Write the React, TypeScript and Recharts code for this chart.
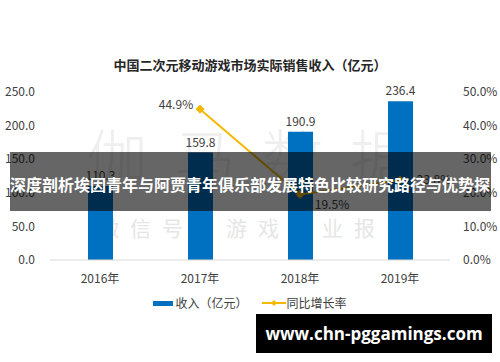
import React from 'react';
import { ComposedChart, Bar, Line, XAxis, YAxis, LabelList } from 'recharts';

const years = ['2016年', '2017年', '2018年', '2019年'];
const revenue = [110.3, 159.8, 190.9, 236.4];
const growth = [null, 44.9, 19.5, 23.8];
const leftTicks = [0, 50, 100, 150, 200, 250];
const rightTicks = [0, 10, 20, 30, 40, 50];

const data = years.map((year, i) => ({ year, revenue: revenue[i], growth: growth[i] }));

const FONT = "'Noto Sans CJK SC', 'Noto Sans', sans-serif";
const BLUE = '#0070C0';
const GOLD = '#F5B800';
const TEXT = '#404040';

// where each growth label sits relative to its point
const growthLabelShift: Record<number, [number, number]> = {
  1: [-24, -6],
  2: [32, 9],
  3: [34, -2],
};

const Diamond = (props: any) => {
  const { cx, cy, value } = props;
  if (value == null || cx == null) return null;
  const r = 4;
  return (
    <polygon
      points={`${cx},${cy - r} ${cx + r},${cy} ${cx},${cy + r} ${cx - r},${cy}`}
      fill={GOLD}
      stroke={GOLD}
    />
  );
};

const GrowthLabel = (props: any) => {
  const { x, y, value, index } = props;
  if (value == null) return null;
  const [dx, dy] = growthLabelShift[index] || [0, -12];
  return (
    <text x={x + dx} y={y + dy} textAnchor="middle" dominantBaseline="central" fontSize={12} fill={TEXT} fontFamily={FONT}>
      {value.toFixed(1)}%
    </text>
  );
};

// legend drawn outside the chart so it does not shrink the plot
const ChartLegend = () => (
  <div style={{ position: 'absolute', left: 0, top: 294, width: 500, display: 'flex', justifyContent: 'center', alignItems: 'center', fontSize: 12, color: TEXT, fontFamily: FONT }}>
    <svg width={20} height={10} style={{ marginRight: 2 }}>
      <rect x={0} y={3} width={20} height={5} fill={BLUE} />
    </svg>
    <span style={{ marginRight: 14 }}>收入（亿元）</span>
    <svg width={24} height={10} style={{ marginRight: 1 }}>
      <line x1={0} y1={5} x2={24} y2={5} stroke={GOLD} strokeWidth={2} />
      <polygon points="12,2 15,5 12,8 9,5" fill={GOLD} />
    </svg>
    <span>同比增长率</span>
  </div>
);

export default function App() {
  return (
    <div style={{ position: 'fixed', left: 0, top: 0, width: 500, height: 362, background: '#fff', overflow: 'hidden', fontFamily: FONT }}>
      {/* faint source watermark */}
      <div style={{ position: 'absolute', left: 86, top: 110, fontSize: 62, fontWeight: 300, color: '#efefef', letterSpacing: 26, whiteSpace: 'nowrap' }}>
        伽马数据
      </div>
      <div style={{ position: 'absolute', left: 98, top: 212, fontSize: 21, color: '#e6e6e6', letterSpacing: 11, whiteSpace: 'nowrap' }}>
        微信号：游戏产业报告
      </div>

      <div style={{ position: 'absolute', left: 0, top: 57, width: 500, textAlign: 'center', fontSize: 13, fontWeight: 700, color: '#262626', lineHeight: '16px' }}>
        中国二次元移动游戏市场实际销售收入（亿元）
      </div>

      <div style={{ position: 'absolute', left: 0, top: 0 }}>
        <ComposedChart width={500} height={362} data={data} margin={{ top: 92, right: 0, bottom: 72, left: 0 }}>
          <XAxis
            dataKey="year"
            height={30}
            axisLine={{ stroke: '#D9D9D9' }}
            tickLine={false}
            tick={{ fontSize: 12, fill: TEXT, fontFamily: FONT }}
            tickMargin={8}
          />
          <YAxis
            yAxisId="left"
            width={50}
            domain={[0, 250]}
            ticks={leftTicks}
            tickFormatter={(v: number) => v.toFixed(1)}
            axisLine={false}
            tickLine={false}
            tickMargin={9}
            tick={{ fontSize: 12, fill: TEXT, fontFamily: FONT }}
          />
          <YAxis
            yAxisId="right"
            orientation="right"
            width={50}
            domain={[0, 50]}
            ticks={rightTicks}
            tickFormatter={(v: number) => `${v.toFixed(1)}%`}
            axisLine={false}
            tickLine={false}
            tickMargin={7}
            tick={{ fontSize: 12, fill: TEXT, fontFamily: FONT }}
          />
          <Bar yAxisId="left" dataKey="revenue" name="收入（亿元）" fill={BLUE} barSize={25} isAnimationActive={false}>
            <LabelList dataKey="revenue" position="top" offset={6} fontSize={12} fill={TEXT} fontFamily={FONT} formatter={(v: any) => Number(v).toFixed(1)} />
          </Bar>
          <Line
            yAxisId="right"
            dataKey="growth"
            name="同比增长率"
            stroke={GOLD}
            strokeWidth={2}
            dot={<Diamond />}
            activeDot={false}
            isAnimationActive={false}
          >
            <LabelList dataKey="growth" content={<GrowthLabel />} />
          </Line>
        </ComposedChart>
      </div>

      <ChartLegend />

      {/* overlay banner */}
      <div style={{ position: 'absolute', left: 10, top: 152, width: 481, height: 59, background: 'rgba(0,0,0,0.6)', overflow: 'hidden' }}>
        <div style={{ position: 'absolute', left: 0, top: 22, fontSize: 16, fontWeight: 700, color: '#fff', whiteSpace: 'nowrap', lineHeight: '20px' }}>
          深度剖析埃因青年与阿贾青年俱乐部发展特色比较研究路径与优势探
        </div>
      </div>

      <div style={{ position: 'absolute', left: 256, top: 314, width: 236, height: 39, background: '#000', color: '#fff', fontSize: 17, fontWeight: 700, fontFamily: "'Open Sans', sans-serif", display: 'flex', alignItems: 'center', justifyContent: 'center' }}>
        www.chn-pggamings.com
      </div>
    </div>
  );
}
